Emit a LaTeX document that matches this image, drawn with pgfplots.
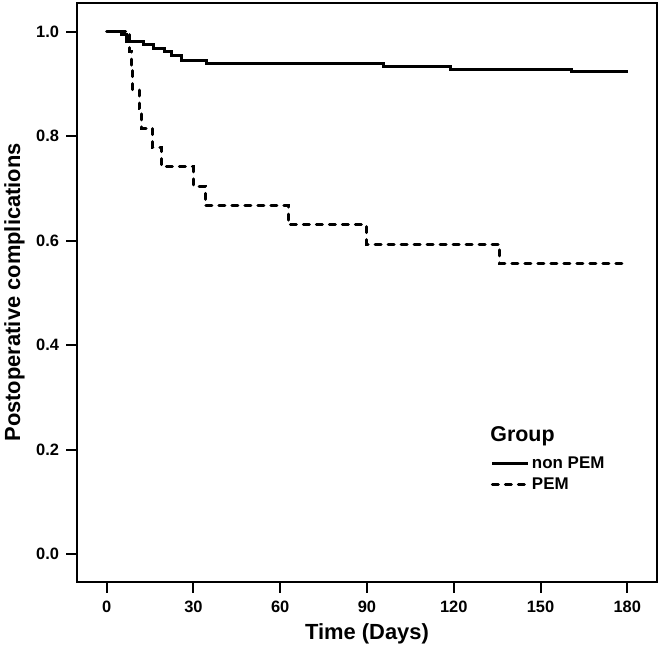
\documentclass[border=0pt]{standalone}
\usepackage{fontspec}
\setmainfont{Liberation Sans}
\usepackage{pgfplots}
\pgfplotsset{compat=1.18}
\begin{document}
\begin{tikzpicture}
\begin{axis}[
  scale only axis,
  width=579.4bp, height=579.3bp,
  xmin=-10.17, xmax=190.17,
  ymin=-0.0536, ymax=1.0555,
  axis line style={line width=2bp},
  xtick={0,30,60,90,120,150,180},
  ytick={0,0.2,0.4,0.6,0.8,1.0},
  tick align=outside,
  xtick pos=bottom, ytick pos=left,
  major tick length=11bp,
  tick style={line width=2bp, black},
  /pgf/number format/assume math mode=true,
  ticklabel style={font=\fontsize{16.5}{16.5}\selectfont\bfseries},
  yticklabel style={/pgf/number format/fixed, /pgf/number format/fixed zerofill, /pgf/number format/precision=1, anchor=east, xshift=-3.7bp},
  xticklabel style={anchor=north, yshift=-4.4bp},
  every axis x label/.style={at={(rel axis cs:0.5,0)}, yshift=-52bp, anchor=center, font=\fontsize{22}{22}\selectfont\bfseries},
  every axis y label/.style={at={(rel axis cs:0,0.5)}, xshift=-62.8bp, rotate=90, anchor=center, font=\fontsize{22}{22}\selectfont\bfseries},
  xlabel={Time (Days)},
  ylabel={Postoperative complications},
  legend style={draw=none, fill=none, at={(axis cs:132.8,0.19)}, anchor=north west, inner sep=0pt, font=\fontsize{17}{17}\selectfont\bfseries, row sep=4bp},
  legend cell align=left,
  legend image code/.code={\draw[#1] (0bp,0bp) -- (36bp,0bp);},
]
\addplot[const plot, black, line width=3bp] coordinates {
(0,1.0) (5.2,0.994) (6.9,0.981) (12.7,0.975) (16.1,0.968) (20,0.962) (22.5,0.955) (26,0.945) (34.6,0.939) (95.8,0.934) (118.9,0.928) (160.8,0.923) (180.4,0.923)
};
\addlegendentry{non PEM}
\addplot[const plot, black, line width=3bp, line cap=round, dash pattern=on 6bp off 7bp] coordinates {
(0,1.0) (8,0.963) (8.5,0.926) (9,0.889) (11.3,0.852) (12,0.815) (15.9,0.778) (19,0.741) (30,0.704) (34,0.667) (62.8,0.630) (89.9,0.593) (135.8,0.556) (179.8,0.556)
};
\addlegendentry{PEM}
\node[anchor=base west, inner sep=0pt, font=\fontsize{21.5}{21.5}\selectfont\bfseries] at (axis cs:132.6,0.2154) {Group};
\end{axis}
\pgfresetboundingbox
\path[use as bounding box] ([shift={(-77.3bp,-69bp)}]current axis.south west) rectangle ([shift={(1.3bp,2.7bp)}]current axis.north east);
\end{tikzpicture}
\end{document}
